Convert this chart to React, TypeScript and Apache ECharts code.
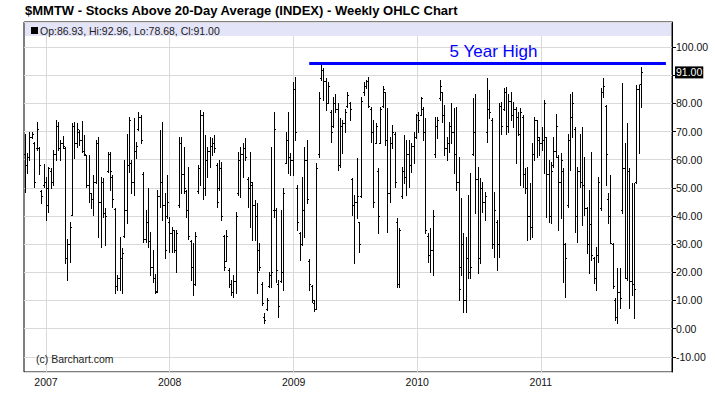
import React, { useEffect, useRef } from 'react';
import * as echarts from 'echarts';

// Weekly bars start on this Monday; one bar per week.
const START_WEEK = '2006-10-30';
const X_MIN = '2006-10-28';
const X_MAX = '2012-01-23';
const YEARS = [2007, 2008, 2009, 2010, 2011];
const HIGH_LINE_FROM = '2009-02-16';
const HIGH_LINE_TO = '2012-01-05';
const HIGH_LABEL = '5 Year High';
const TITLE = '$MMTW - Stocks Above 20-Day Average (INDEX) - Weekly OHLC Chart';
const COPYRIGHT = '(c) Barchart.com';

const opens = [
  62, 58, 61, 68, 66, 64, 64, 49, 51, 52, 44, 56, 52, 62, 72, 64, 66, 64, 25, 30,
  40.5, 72, 66, 70, 67, 63, 61.5, 51, 48, 46, 52, 66, 45, 52, 41, 56, 62, 54, 42.5, 15,
  18, 25, 33, 42,
  58, 59, 52, 63, 71, 75, 55, 32, 38, 31, 22, 18, 13.5, 47, 52, 44, 40, 38, 34, 35,
  28, 44, 66, 55, 49, 42, 31, 22, 16, 49, 57, 76, 50, 60, 63, 65, 66, 58, 50, 57,
  33, 24, 21, 16,
  13, 17, 48, 60, 62, 64, 53, 50, 51, 44, 40, 28, 16, 4, 7, 15, 19, 42, 42, 16,
  17, 20, 59, 67, 61, 60, 85, 50, 34, 30, 42, 60, 24, 15, 9, 7, 62, 89, 92, 88,
  80, 77, 72, 80,
  78, 58, 72, 73, 79, 80, 53, 44, 45, 38, 47, 84, 86, 88, 78, 70, 66, 56, 66, 79,
  84, 67, 48, 66, 69, 38, 16, 47, 56, 54, 62, 58, 65, 68, 76, 76, 78, 70, 33, 26,
  28, 62, 72, 82,
  84, 76, 64, 66, 72, 70, 62, 52, 22, 30, 10, 25, 20, 62, 70, 53, 25, 50, 45, 70,
  78, 74, 30, 38, 30, 79, 78, 84, 72, 81, 76, 78, 75, 69, 75, 55, 50, 40, 36, 62,
  74, 67, 66, 67,
  68, 55, 40, 58, 63, 61, 52, 56, 30, 44, 67, 75, 71, 40, 56, 52, 51, 43, 30, 37,
  25, 18, 26, 43, 84, 79, 46, 40, 30, 10, 4, 13, 42, 57, 18, 56, 17, 16, 52, 85,
  86.93,
];

const highs = [
  69, 62.2, 70, 70, 66.4, 73.5, 64.5, 49.2, 58.5, 54, 57.5, 57, 63.4, 74, 73.5, 67, 68.4, 64.6, 32, 37.8,
  72.9, 73.5, 72.9, 70.5, 73.7, 68.8, 61.7, 61.7, 48, 54.6, 67, 68.2, 54, 53.4, 42.7, 62.8, 62.8, 54.6, 42.7, 19,
  32.7, 28.5, 59.9, 69.3,
  75.3, 59.9, 74.7, 66.4, 77, 75.9, 55.7, 42.1, 49.8, 34.4, 27.9, 19.5, 49.2, 70.5, 73.5, 48, 54.6, 39.8, 36.2, 35.2,
  35, 68.2, 68.2, 64.6, 49.2, 57.5, 31.4, 30.3, 34.4, 58, 77.6, 77, 68.8, 64.6, 68.2, 67.6, 68.8, 58.7, 59.9, 59.3,
  33.1, 35, 21.4, 17.3,
  19, 41.5, 62.8, 64.6, 65.8, 67.6, 54, 62.8, 52.2, 45.7, 44.5, 30.3, 16.7, 5.4, 10.8, 20.1, 64.6, 77, 42.7, 17.3,
  42.1, 49.8, 69.9, 77, 62.2, 87.7, 89.5, 51, 34.4, 54, 64.6, 67, 24.6, 15.5, 10.2, 58.7, 84, 94.2, 92.4, 88.9,
  87.7, 77.6, 82.4, 83.5,
  80, 74.7, 74, 78, 84, 80.6, 53.4, 47.5, 60.5, 38, 82.4, 87.7, 88.3, 89.5, 78.8, 74, 72.9, 56.9, 78.8, 86.2,
  84, 78.2, 68.2, 72.3, 69.9, 39.2, 35.6, 57.5, 68.8, 67, 67, 65.8, 69.9, 76.4, 77, 82.4, 78.8, 74.7, 33.8, 35.6,
  42.1, 75.3, 75.3, 88.3,
  84, 79.4, 68.2, 73.5, 80, 78.2, 78.8, 61, 46.3, 33.8, 32.7, 47.5, 55.1, 81.8, 83.5, 57.5, 53.4, 52.2, 48.6, 88.9,
  84.7, 74.7, 48.6, 38.6, 80, 80.6, 85.3, 85.9, 83.5, 84, 80.6, 78.8, 77, 78.2, 75.9, 56.9, 57.5, 51.6, 65.8, 75.3,
  74, 68.2, 71.7, 81.2,
  68.2, 59.9, 59.3, 68.2, 76.4, 61.7, 62.2, 56.9, 30.3, 69.3, 83.5, 84, 71.7, 57.5, 69.3, 71.7, 61, 43.3, 49.2, 62.8,
  25.6, 29.1, 54, 85.3, 88.9, 79.4, 48, 54.6, 30.3, 10.8, 21.4, 21.4, 87.1, 65.8, 72.9, 56.9, 51.6, 51.6, 86.5, 86.5,
  92.96,
];

const lows = [
  48.6, 55.1, 60, 67.6, 50.2, 63.5, 55, 44.5, 50.4, 38.6, 41.5, 50, 51, 60, 63.4, 60, 64, 23.2, 17.3, 23.8,
  40.4, 60.5, 64.6, 65.2, 62.8, 61.7, 50.4, 45.1, 42.7, 40.4, 51.6, 32.7, 29.1, 39.8, 29.7, 55.7, 49.2, 43.3, 12.5, 13.7,
  13.7, 12.5, 32.7, 37.4,
  55.7, 48, 47.5, 60.5, 70.5, 65.8, 30.9, 30.9, 29.1, 19, 16.7, 12.5, 13.1, 43.3, 38.6, 25, 39.2, 27.3, 27.3, 27.3,
  20.2, 43.3, 48, 48.2, 39.8, 32, 17.3, 12, 15.5, 48, 51, 46.2, 47.3, 54, 57.5, 61.7, 62.8, 43.3, 49.2, 38.6,
  20.7, 24, 14.9, 11.9,
  11.4, 12.5, 47.5, 46.9, 54, 59.9, 43.3, 36.2, 31.5, 31.5, 12.5, 20.8, 8.4, 1.9, 6.6, 14.9, 14.9, 39.8, 16.7, 4.3,
  16.7, 13.7, 58.7, 55.1, 54.6, 54.6, 67, 35, 24.4, 29.7, 32.7, 44.5, 13.7, 9.6, 6.4, 6.9, 61, 88.3, 81.2, 77.6,
  80, 66.4, 71.7, 77,
  56.3, 57.5, 62.2, 70, 78.8, 74, 40.4, 23.2, 39.2, 27.3, 46.9, 83, 85.3, 78.8, 66.4, 43.3, 65.8, 33.8, 65.8, 78.8,
  65.2, 34.4, 45.1, 64, 50.4, 14.9, 14.9, 46.3, 51.6, 47.5, 50.4, 55.7, 58.7, 67.6, 69.9, 75.9, 67, 33.8, 23.8, 20.2,
  19, 61, 67.6, 81.2,
  73.5, 61.7, 59.9, 62.8, 65.8, 55.1, 49.2, 10.2, 19, 6, 6, 17.9, 17.9, 61.7, 40.9, 19.6, 23.2, 41.5, 38.6, 66.4,
  74.7, 28.5, 25.6, 20.8, 25.6, 69.3, 77.6, 69.3, 69.9, 74, 71.7, 58.7, 68.8, 51, 50.4, 48, 31.5, 32, 32.7, 59.9,
  61, 61.7, 63.4, 55.1,
  39.8, 38, 37.4, 57.5, 61, 35, 39.2, 16.7, 11.4, 43.3, 56.3, 68.2, 34.4, 30.9, 50.4, 36.8, 40.4, 26.7, 19.6, 24.4,
  16.1, 13.7, 23.8, 42.1, 82.4, 51, 37.4, 30.3, 14.3, 3.1, 1.9, 7.2, 40.9, 17.9, 17.3, 7.2, 12, 3.7, 51.6, 62.2,
  78.68,
];

const closes = [
  58, 61, 68, 69, 52, 71, 58, 47, 52, 50, 57, 52, 62, 72, 64, 66, 65, 25, 30, 36,
  72, 66, 71, 67, 63, 62, 51, 48, 46, 52, 66, 45, 52, 41, 40, 62, 56, 46, 15, 18,
  25, 27, 42, 58,
  74, 52, 63, 65, 75, 67, 32, 38, 31, 22, 18, 13, 47, 52, 44, 28, 45, 34, 35, 28,
  34, 66, 55, 50, 42, 33, 22, 16, 33, 57, 76, 50, 60, 63, 65, 66, 64, 45, 57, 40,
  22, 33, 16, 13,
  17, 40, 60, 62, 64, 61, 50, 52, 44, 40, 20, 22, 9, 3, 10, 19, 20, 71, 21, 8,
  20, 48, 67, 61, 60, 85, 70, 38, 30, 42, 60, 46, 16, 10, 7, 57, 82, 92, 88, 80,
  86, 70, 80, 78,
  58, 72, 73, 77, 83, 78, 44, 45, 47, 30, 81, 86, 88, 79, 70, 45, 72, 40, 78, 85,
  67, 48, 66, 70, 52, 16, 35, 56, 54, 62, 58, 65, 68, 76, 74, 82, 70, 35, 26, 28,
  40, 72, 74, 86,
  76, 64, 66, 72, 70, 62, 52, 14, 30, 10, 25, 20, 22, 70, 53, 25, 50, 45, 47, 78,
  77, 30, 42, 30, 79, 72, 84, 72, 81, 76, 78, 75, 69, 77, 55, 50, 40, 36, 62, 74,
  68, 66, 67, 80,
  55, 40, 56, 63, 72, 52, 60, 30, 25, 67, 75, 80, 40, 56, 52, 51, 43, 30, 37, 26,
  18, 26, 52, 84, 86, 62, 40, 30.5, 15, 4, 13, 11, 57, 18, 56, 17, 16, 14, 85, 86.9,
  91,
];

const DAY = 86400000;
const utc = (s: string) => Date.parse(s + 'T00:00:00Z');
const FONT = '"Liberation Sans", Arial, sans-serif';

export default function App() {
  const ref = useRef<HTMLDivElement>(null);

  useEffect(() => {
    if (!ref.current) return;
    const chart = echarts.init(ref.current, null, { renderer: 'svg' });
    const t0 = utc(START_WEEK);
    const rows = opens.map((o, i) => [t0 + i * 7 * DAY, o, highs[i], lows[i], closes[i]]);
    const last = rows.length - 1;
    const highValue = Math.max(...highs);
    const legendText = `Op:${opens[last].toFixed(2)}, Hi:${highs[last].toFixed(2)}, Lo:${lows[last].toFixed(2)}, Cl:${closes[last].toFixed(2)}`;

    const st = { stroke: '#000', lineWidth: 1 };

    chart.setOption({
      animation: false,
      useUTC: true,
      backgroundColor: '#fff',
      textStyle: { fontFamily: FONT },
      grid: { left: 24, top: 22, width: 648, height: 350, show: true, borderColor: '#000', borderWidth: 1 },
      xAxis: {
        type: 'time',
        min: utc(X_MIN),
        max: utc(X_MAX),
        axisLine: { show: false },
        axisTick: { show: false },
        axisLabel: { show: false },
        splitLine: { show: false },
      },
      yAxis: {
        type: 'value',
        position: 'right',
        min: -15.4,
        max: 108.9,
        minInterval: 10,
        maxInterval: 10,
        axisLine: { show: true, lineStyle: { color: '#000', width: 1 } },
        axisTick: { show: true, length: 4, lineStyle: { color: '#000' } },
        axisLabel: {
          margin: 4,
          fontSize: 10.5,
          color: '#111',
          fontFamily: FONT,
          showMinLabel: false,
          showMaxLabel: false,
          formatter: (v: number) => (Math.abs(v - Math.round(v / 10) * 10) > 1e-6 || Math.round(v) === 90 ? '' : v.toFixed(2)),
        },
        splitLine: { show: true, lineStyle: { color: '#d9d9d9', width: 1 } },
      },
      graphic: [
        {
          type: 'text', left: 25, top: 4, z: 10,
          style: { text: TITLE, font: `bold 13px ${FONT}`, fill: '#000' },
        },
        {
          type: 'rect', z: 5, shape: { x: 25, y: 23, width: 646, height: 13 },
          style: { fill: '#e4e4f8' },
        },
        {
          type: 'rect', z: 6, shape: { x: 31, y: 27, width: 7, height: 7 },
          style: { fill: '#000' },
        },
        {
          type: 'text', z: 6, x: 40, y: 30.5,
          style: { text: legendText, font: `10.5px ${FONT}`, fill: '#222', verticalAlign: 'middle' },
        },
        {
          type: 'text', z: 6, x: 36, y: 359,
          style: { text: COPYRIGHT, font: `10.5px ${FONT}`, fill: '#222', verticalAlign: 'middle' },
        },
      ],
      series: [
        {
          type: 'line',
          data: rows.map((r) => [r[0], r[4]]),
          showSymbol: false,
          silent: true,
          lineStyle: { opacity: 0 },
          z: 1,
          markLine: {
            z: 1,
            silent: true,
            animation: false,
            symbol: ['none', 'none'],
            data: YEARS.map((y) => ({
              xAxis: Date.UTC(y, 0, 1),
              lineStyle: { color: '#d9d9d9', width: 1, type: 'solid' },
              label: { show: true, position: 'start', formatter: String(y), color: '#111', fontSize: 10.5, fontFamily: FONT, distance: 4 },
            })),
          },
        },
        {
          type: 'custom',
          data: rows,
          z: 2,
          encode: { x: 0, y: [1, 2, 3, 4] },
          renderItem: (params: any, api: any) => {
            const t = api.value(0);
            const top = api.coord([t, api.value(2)]);
            const bot = api.coord([t, api.value(3)]);
            const op = api.coord([t, api.value(1)]);
            const cl = api.coord([t, api.value(4)]);
            const x = Math.round(top[0]) + 0.5;
            const yo = Math.round(op[1]) + 0.5;
            const yc = Math.round(cl[1]) + 0.5;
            return {
              type: 'group',
              children: [
                { type: 'line', shape: { x1: x, y1: Math.round(top[1]), x2: x, y2: Math.round(bot[1]) + 1 }, style: st },
                { type: 'line', shape: { x1: x - 1.5, y1: yo, x2: x, y2: yo }, style: st },
                { type: 'line', shape: { x1: x, y1: yc, x2: x + 1.5, y2: yc }, style: st },
              ],
            };
          },
          markLine: {
            silent: true,
            animation: false,
            symbol: ['none', 'none'],
            data: [
              [
                {
                  coord: [utc(HIGH_LINE_FROM), highValue],
                  lineStyle: { color: '#0000ff', width: 3, type: 'solid' },
                  label: { show: true, position: 'insideMiddleTop', formatter: HIGH_LABEL, color: '#0000ff', fontSize: 17, fontFamily: FONT, distance: 3, offset: [6, 0] },
                },
                { coord: [utc(HIGH_LINE_TO), highValue] },
              ],
              {
                yAxis: closes[last],
                lineStyle: { width: 0, color: 'rgba(0,0,0,0)' },
                label: {
                  show: true,
                  position: 'end',
                  distance: 3,
                  formatter: closes[last].toFixed(2),
                  color: '#fff',
                  backgroundColor: '#000',
                  padding: [1, 1, 0, 1],
                  fontSize: 10.5,
                  fontFamily: FONT,
                },
              },
            ],
          },
        },
      ],
    });

    return () => chart.dispose();
  }, []);

  return <div ref={ref} style={{ position: 'absolute', left: 0, top: 0, width: 715, height: 394 }} />;
}
